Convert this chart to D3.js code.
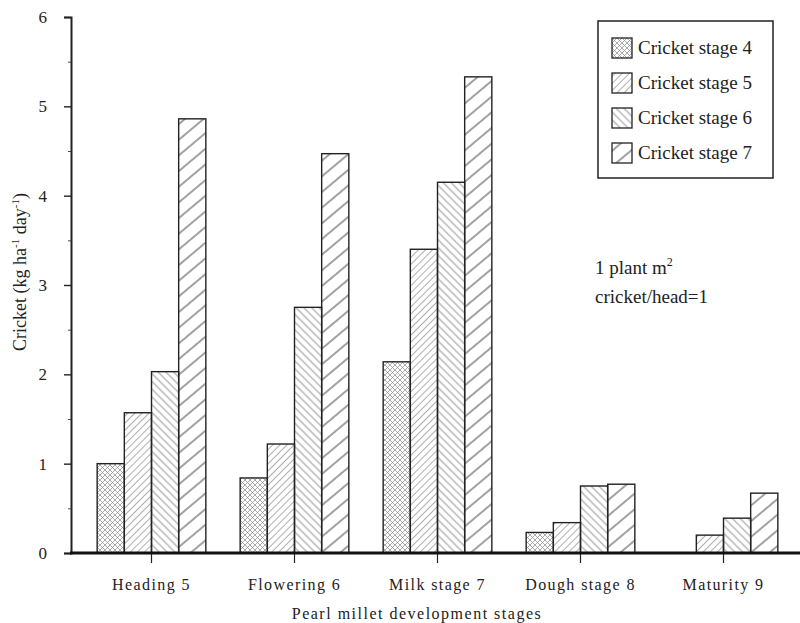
<!DOCTYPE html>
<html lang="en">
<head>
<meta charset="utf-8">
<title>Cricket consumption by pearl millet stage</title>
<script src="https://d3js.org/d3.v7.min.js"></script>
<style>
body { margin:0; background:#fff; }
svg text { font-family: "Liberation Serif", "DejaVu Serif", serif; fill:#222; }
</style>
</head>
<body>
<div id="chart"></div>
<script>
var categories = ["Heading 5", "Flowering 6", "Milk stage 7", "Dough stage 8", "Maturity 9"];
var seriesNames = ["Cricket stage 4", "Cricket stage 5", "Cricket stage 6", "Cricket stage 7"];
var stage4 = [1.00, 0.84, 2.14, 0.23, 0];
var stage5 = [1.57, 1.22, 3.40, 0.34, 0.20];
var stage6 = [2.03, 2.75, 4.15, 0.75, 0.39];
var stage7 = [4.86, 4.47, 5.33, 0.77, 0.67];
var yTicks = [0, 1, 2, 3, 4, 5, 6];

var width = 800, height = 623;
var x0 = 71, yBase = 553, yTop = 17;

var svg = d3.select("#chart").append("svg").attr("width", width).attr("height", height);

// hatch patterns
var defs = svg.append("defs");
function hatch(id, gap, angle, color, sw){
	var p = defs.append("pattern").attr("id", id).attr("patternUnits", "userSpaceOnUse")
		.attr("width", 20).attr("height", gap).attr("patternTransform", "rotate(" + angle + ")");
	p.append("line").attr("x1", 0).attr("x2", 20).attr("y1", gap/2).attr("y2", gap/2)
		.attr("stroke", color).attr("stroke-width", sw);
}
var cp = defs.append("pattern").attr("id", "p0").attr("patternUnits", "userSpaceOnUse")
	.attr("width", 5).attr("height", 5);
cp.append("path").attr("d", "M0,0L5,5M5,0L0,5").attr("stroke", "#888").attr("stroke-width", 0.7);
hatch("p1", 5, -45, "#999", 0.8);
hatch("p2", 5.5, 45, "#777", 0.8);
hatch("p3", 12, -40, "#444", 1);
var fills = ["url(#p0)", "url(#p1)", "url(#p2)", "url(#p3)"];

var x = d3.scaleBand().domain(categories).range([80, 795]).paddingInner(0.24).paddingOuter(0.12);
var xs = d3.scaleBand().domain(d3.range(4)).range([0, x.bandwidth()]);
var y = d3.scaleLinear().domain([0, 6]).range([yBase, yTop]);

var series = [stage4, stage5, stage6, stage7];
var data = [];
categories.forEach(function(c, i){
	series.forEach(function(s, j){ if (s[i] > 0) data.push({c: c, s: j, v: s[i]}); });
});

svg.selectAll(".bar").data(data).enter().append("rect").attr("class", "bar")
	.attr("x", function(d){ return x(d.c) + xs(d.s); })
	.attr("y", function(d){ return y(d.v); })
	.attr("width", xs.bandwidth())
	.attr("height", function(d){ return yBase - y(d.v); })
	.attr("fill", function(d){ return fills[d.s]; })
	.attr("stroke", "#222").attr("stroke-width", 1.4);

// y axis
var yAxis = d3.axisLeft(y).tickValues(yTicks).tickSize(7).tickPadding(17).tickFormat(d3.format("d"));
var ga = svg.append("g").attr("transform", "translate(" + x0 + ",0)").call(yAxis);
ga.select(".domain").attr("stroke", "#222").attr("stroke-width", 2);
ga.selectAll(".tick line").attr("stroke", "#222").attr("stroke-width", 1.4);
ga.selectAll(".tick text").style("font-size", "17px").attr("fill", "#444");
svg.append("g").attr("transform", "translate(" + x0 + ",0)")
	.call(d3.axisLeft(y).tickValues(d3.range(0.5, 6, 1)).tickSize(3).tickFormat(""))
	.call(function(g){ g.select(".domain").remove(); g.selectAll("line").attr("stroke", "#444"); });

// x axis
var xa = svg.append("g").attr("transform", "translate(0," + yBase + ")")
	.call(d3.axisBottom(x).tickSize(10).tickPadding(16));
xa.select(".domain").remove();
xa.selectAll(".tick line").attr("stroke", "#222").attr("stroke-width", 1.2);
xa.selectAll(".tick text").style("font-size", "16px").style("letter-spacing", "1.4px").attr("fill", "#222");
svg.append("line").attr("x1", x0 - 1).attr("x2", width).attr("y1", yBase).attr("y2", yBase)
	.attr("stroke", "#111").attr("stroke-width", 3);

svg.append("text").attr("x", 417).attr("y", 619).attr("text-anchor", "middle")
	.style("font-size", "16px").style("letter-spacing", "1.5px").text("Pearl millet development stages");

// y label
var yl = svg.append("text").attr("transform", "translate(26,272) rotate(-90)").attr("text-anchor", "middle")
	.style("font-size", "18px").attr("fill", "#333");
yl.append("tspan").text("Cricket (kg ha");
yl.append("tspan").attr("dy", -7).style("font-size", "11px").text("-1");
yl.append("tspan").attr("dy", 7).text(" day");
yl.append("tspan").attr("dy", -7).style("font-size", "11px").text("-1");
yl.append("tspan").attr("dy", 7).text(")");

// legend
var lg = svg.append("g").attr("transform", "translate(598,21)");
lg.append("rect").attr("width", 175).attr("height", 157).attr("fill", "#fff").attr("stroke", "#222").attr("stroke-width", 1.5);
seriesNames.forEach(function(n, i){
	var r = lg.append("g").attr("transform", "translate(14," + (17 + i * 35) + ")");
	r.append("rect").attr("width", 20).attr("height", 20).attr("fill", fills[i]).attr("stroke", "#222").attr("stroke-width", 1.3);
	r.append("text").attr("x", 26).attr("y", 16).style("font-size", "19px").text(n);
});

// annotation
var an = svg.append("text").attr("x", 595).attr("y", 274).style("font-size", "19px");
an.append("tspan").text("1 plant m");
an.append("tspan").attr("dy", -8).style("font-size", "12px").text("2");
svg.append("text").attr("x", 595).attr("y", 303).style("font-size", "19px").text("cricket/head=1");
</script>
</body>
</html>
